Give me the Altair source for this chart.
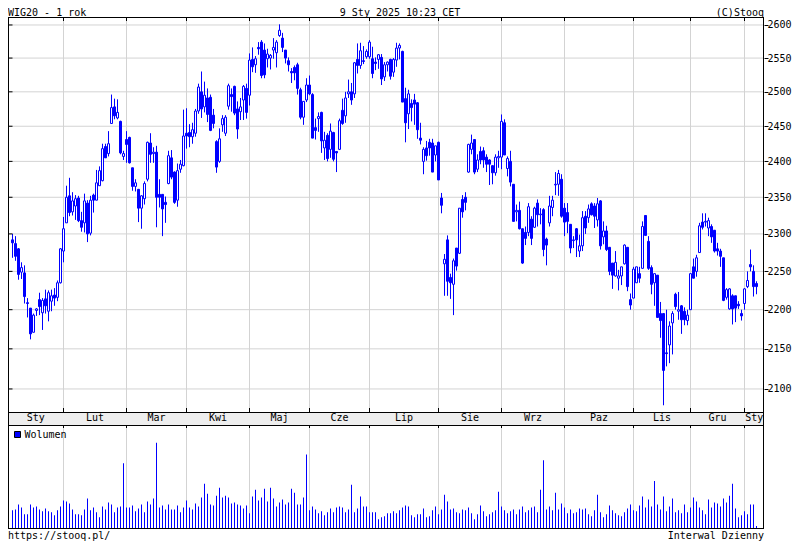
import math
import altair as alt
import pandas as pd

FONT = "DejaVu Sans Mono"
BLUE = "#0000ff"
GRID = "#d3d3d3"

# ---------------- data: WIG20 daily sessions, 9 Jan 2024 - 9 Jan 2025 ----------------
open_ = (
    [2292, 2287, 2280, 2249, 2248, 2209, 2202, 2171, 2199, 2213, 2196, 2214, 2198, 2211, 2219, 2216, 2235, 2277]
    + [2315, 2352, 2330, 2338, 2349, 2318, 2315, 2342, 2301, 2353, 2346, 2366, 2373, 2421, 2411, 2454, 2478, 2462, 2457, 2407]
    + [2431, 2434, 2391, 2365, 2361, 2335, 2348, 2375, 2426, 2411, 2413, 2354, 2354, 2343, 2369, 2405, 2385, 2346, 2389, 2394]
    + [2440, 2441, 2435, 2440, 2472, 2500, 2478, 2491, 2492, 2466, 2428, 2400, 2452, 2440, 2479, 2496, 2508, 2475, 2471, 2488, 2505]
    + [2495, 2548, 2540, 2566, 2574, 2562, 2549, 2550, 2562, 2558, 2584, 2580, 2562, 2546, 2530, 2536, 2540, 2503, 2463, 2488]
    + [2510, 2496, 2448, 2461, 2470, 2419, 2437, 2417, 2441, 2414, 2417, 2473, 2465, 2497, 2500, 2497, 2548, 2539, 2546, 2552, 2552, 2549, 2544, 2548, 2551, 2522, 2540]
    + [2548, 2529, 2547, 2565, 2560, 2490, 2468, 2483, 2488, 2484, 2433, 2400, 2419, 2427, 2426, 2409, 2427, 2349, 2260, 2292, 2242, 2233, 2281, 2274, 2347, 2350, 2385, 2417, 2431, 2389, 2414, 2415, 2406, 2402, 2394, 2384, 2405, 2406, 2455, 2390, 2400, 2368, 2330, 2332, 2307, 2302, 2302, 2320, 2309, 2342, 2326, 2333, 2293, 2315, 2336, 2367, 2368, 2375, 2335, 2329, 2313, 2291, 2307]
    + [2277, 2284, 2324, 2322, 2341, 2338, 2319, 2345, 2296, 2304, 2282, 2261, 2244, 2241, 2244, 2260, 2282, 2213, 2215, 2235, 2247, 2254, 2325, 2290, 2255, 2235, 2245, 2195, 2195, 2145, 2155, 2183, 2220, 2198, 2205, 2198, 2186, 2200, 2256, 2250, 2275, 2316, 2316, 2308, 2310, 2305, 2280, 2277, 2268, 2216, 2201, 2218, 2218, 2207, 2195, 2208, 2230, 2259, 2250, 2234]
)
high = (
    [2300, 2297, 2281, 2262, 2258, 2215, 2202, 2195, 2202, 2222, 2215, 2226, 2225, 2226, 2228, 2238, 2281, 2323]
    + [2366, 2377, 2357, 2353, 2352, 2330, 2355, 2346, 2352, 2355, 2388, 2393, 2425, 2425, 2443, 2496, 2490, 2489, 2458, 2415]
    + [2443, 2435, 2391, 2375, 2361, 2353, 2372, 2428, 2440, 2420, 2422, 2375, 2354, 2351, 2415, 2416, 2386, 2397, 2402, 2474]
    + [2476, 2453, 2455, 2475, 2512, 2530, 2515, 2505, 2496, 2475, 2430, 2447, 2466, 2466, 2512, 2505, 2509, 2486, 2491, 2510, 2512]
    + [2557, 2566, 2553, 2574, 2577, 2572, 2564, 2556, 2580, 2577, 2601, 2588, 2562, 2551, 2535, 2539, 2543, 2506, 2486, 2520]
    + [2524, 2498, 2461, 2470, 2471, 2442, 2440, 2454, 2442, 2414, 2461, 2490, 2500, 2518, 2513, 2544, 2572, 2573, 2568, 2563, 2577, 2567, 2551, 2556, 2556, 2544, 2545]
    + [2549, 2550, 2573, 2572, 2561, 2506, 2503, 2489, 2497, 2485, 2455, 2420, 2429, 2432, 2432, 2422, 2428, 2356, 2273, 2298, 2247, 2267, 2281, 2335, 2353, 2357, 2425, 2438, 2431, 2410, 2421, 2420, 2410, 2403, 2394, 2410, 2415, 2467, 2460, 2407, 2415, 2368, 2340, 2344, 2307, 2310, 2342, 2324, 2337, 2347, 2335, 2335, 2295, 2352, 2352, 2385, 2388, 2382, 2342, 2342, 2313, 2297, 2308]
    + [2299, 2331, 2331, 2340, 2343, 2342, 2349, 2346, 2317, 2311, 2282, 2261, 2277, 2252, 2256, 2286, 2282, 2221, 2256, 2256, 2256, 2317, 2325, 2297, 2258, 2247, 2245, 2210, 2195, 2200, 2185, 2198, 2222, 2223, 2206, 2203, 2200, 2247, 2267, 2272, 2315, 2328, 2328, 2322, 2313, 2305, 2288, 2280, 2268, 2228, 2228, 2220, 2218, 2211, 2200, 2228, 2250, 2279, 2258, 2237]
)
low = (
    [2268, 2264, 2239, 2240, 2208, 2190, 2162, 2171, 2192, 2193, 2174, 2195, 2185, 2198, 2205, 2211, 2234, 2262]
    + [2315, 2324, 2325, 2319, 2316, 2303, 2302, 2289, 2298, 2329, 2346, 2366, 2372, 2405, 2407, 2454, 2460, 2460, 2410, 2402]
    + [2398, 2397, 2359, 2358, 2316, 2307, 2340, 2372, 2398, 2398, 2309, 2336, 2297, 2315, 2368, 2375, 2341, 2337, 2384, 2393]
    + [2418, 2420, 2425, 2435, 2468, 2462, 2470, 2456, 2443, 2447, 2384, 2398, 2442, 2436, 2474, 2471, 2466, 2432, 2459, 2459, 2461]
    + [2480, 2529, 2528, 2555, 2520, 2520, 2536, 2533, 2549, 2536, 2582, 2559, 2542, 2530, 2513, 2517, 2496, 2460, 2452, 2485]
    + [2495, 2433, 2431, 2442, 2412, 2402, 2400, 2405, 2400, 2385, 2416, 2452, 2455, 2491, 2481, 2491, 2527, 2534, 2541, 2549, 2549, 2520, 2532, 2534, 2510, 2516, 2530]
    + [2518, 2522, 2537, 2548, 2485, 2427, 2446, 2457, 2452, 2432, 2424, 2382, 2401, 2408, 2385, 2400, 2374, 2328, 2218, 2218, 2214, 2193, 2251, 2273, 2322, 2332, 2384, 2410, 2382, 2385, 2396, 2391, 2385, 2367, 2368, 2380, 2391, 2389, 2409, 2379, 2365, 2317, 2317, 2306, 2260, 2285, 2297, 2285, 2308, 2310, 2313, 2270, 2258, 2310, 2324, 2353, 2352, 2322, 2297, 2301, 2274, 2281, 2269]
    + [2269, 2277, 2300, 2315, 2325, 2308, 2310, 2279, 2286, 2277, 2245, 2227, 2243, 2225, 2232, 2259, 2224, 2200, 2215, 2235, 2235, 2254, 2298, 2252, 2220, 2205, 2190, 2164, 2080, 2128, 2132, 2143, 2200, 2187, 2169, 2180, 2180, 2200, 2241, 2243, 2275, 2306, 2310, 2297, 2288, 2275, 2271, 2256, 2211, 2213, 2200, 2181, 2184, 2201, 2186, 2200, 2228, 2250, 2217, 2220]
)
close = (
    [2288, 2270, 2246, 2255, 2217, 2208, 2169, 2193, 2201, 2204, 2212, 2205, 2222, 2218, 2215, 2235, 2280, 2307]
    + [2350, 2329, 2345, 2348, 2318, 2309, 2345, 2300, 2346, 2346, 2370, 2387, 2418, 2405, 2425, 2477, 2465, 2470, 2412, 2411]
    + [2424, 2398, 2365, 2370, 2335, 2352, 2369, 2427, 2410, 2413, 2350, 2350, 2334, 2340, 2408, 2378, 2343, 2387, 2396, 2436]
    + [2436, 2435, 2445, 2472, 2507, 2475, 2495, 2467, 2444, 2454, 2392, 2432, 2461, 2463, 2509, 2493, 2469, 2446, 2478, 2508, 2470]
    + [2547, 2537, 2549, 2564, 2524, 2525, 2556, 2554, 2566, 2574, 2592, 2566, 2550, 2540, 2528, 2528, 2505, 2463, 2486, 2510]
    + [2497, 2433, 2444, 2464, 2429, 2430, 2404, 2443, 2403, 2412, 2458, 2454, 2491, 2500, 2488, 2543, 2539, 2561, 2545, 2560, 2574, 2527, 2542, 2555, 2519, 2540, 2544]
    + [2523, 2548, 2565, 2569, 2485, 2455, 2497, 2477, 2482, 2445, 2430, 2417, 2408, 2419, 2385, 2422, 2374, 2339, 2266, 2237, 2235, 2264, 2257, 2335, 2330, 2343, 2424, 2426, 2385, 2402, 2402, 2402, 2396, 2396, 2384, 2406, 2407, 2457, 2409, 2404, 2371, 2317, 2332, 2307, 2261, 2294, 2337, 2294, 2335, 2326, 2327, 2279, 2285, 2338, 2346, 2368, 2383, 2324, 2316, 2317, 2281, 2292, 2292]
    + [2284, 2322, 2308, 2334, 2326, 2324, 2341, 2284, 2304, 2279, 2250, 2245, 2262, 2244, 2256, 2285, 2230, 2206, 2253, 2256, 2241, 2310, 2298, 2254, 2233, 2247, 2190, 2186, 2123, 2144, 2179, 2195, 2204, 2200, 2187, 2187, 2193, 2247, 2241, 2268, 2311, 2309, 2317, 2318, 2296, 2277, 2277, 2270, 2212, 2226, 2227, 2201, 2202, 2205, 2192, 2227, 2238, 2256, 2230, 2230]
)
# volume (relative units, panel top = 106)
volume = (
    [19, 20, 25, 22, 15, 15, 25, 22, 23, 20, 18, 21, 18, 17, 14, 19, 23, 29, 28, 26,
     20, 15, 15, 14, 20, 31, 19, 22, 17, 12, 23, 20, 27, 25, 17, 22, 23, 67, 22, 22,
     24, 18, 21, 25, 17, 28, 25, 31, 88, 22, 24, 20, 25, 20, 20, 24, 17, 22, 29, 22,
     20, 26, 23, 32, 46, 36, 25, 24, 34, 42, 32, 34, 32, 26, 27, 25, 24, 21, 24, 16,
     33, 40, 29, 32, 41, 28, 42, 31, 23, 27, 30, 25, 27, 41, 37, 25, 25, 32, 76, 19,
     23, 20, 16, 18, 14, 17, 21, 17, 22, 23, 22, 17, 20, 45, 17, 21, 33, 23, 23, 17,
     17, 17, 10, 12, 13, 16, 16, 18, 16, 19]
    + [22, 24, 23, 14, 12, 15, 15, 21, 12, 13, 19, 23, 15, 20, 35, 28, 20, 21, 17, 16,
       20, 19, 22, 16, 10, 15, 24, 18, 13, 15, 17, 19, 38, 23, 19, 16, 18, 20, 15, 20,
       23, 17, 19, 22, 23, 17, 40, 70, 20, 23, 19, 37, 20, 26, 22, 16, 20, 16, 17, 21,
       20, 21, 15, 13, 19, 35, 17, 12, 15, 24, 19, 16, 14, 13, 17, 21, 25, 19, 18, 24,
       33, 22, 30, 23, 49, 25, 20, 33, 18, 23, 31, 17, 19, 16, 25, 17, 22, 32, 28, 22,
       19, 15, 30, 22, 27, 26, 23, 31, 27, 34, 46, 21, 12, 14, 18, 15, 25, 25, 3]
)
VOL_TOP = 106

month_names = ["Sty", "Lut", "Mar", "Kwi", "Maj", "Cze", "Lip", "Sie", "Wrz", "Paz", "Lis", "Gru", "Sty"]
month_starts = [17, 38, 58, 79, 99, 119, 142, 163, 184, 207, 226, 244]  # index of 1st session of month
price_levels = [2100, 2150, 2200, 2250, 2300, 2350, 2400, 2450, 2500, 2550, 2600]

header_left = "WIG20 - 1 rok"
header_mid = "9 Sty 2025 10:23 CET"
header_right = "(C)Stooq"
footer_left = "https://stooq.pl/"
footer_right = "Interwal Dzienny"
legend_label = "Wolumen"

# ---------------- layout (pixels) ----------------
W = 756          # plot width
H1 = 395         # price panel
H2 = 13          # month band
H3 = 104         # volume panel
HT = H1 + H2 + H3
P_TOP = 2612.2   # price at top edge of price panel
P_BOT = 2071.8   # price at bottom edge of price panel
P_EXT = P_TOP * math.exp(-math.log(P_TOP / P_BOT) * HT / H1)
X0 = -1.5
X1 = X0 + W / 3.0

# ---------------- frames ----------------
n = len(close)
df = pd.DataFrame({"i": list(range(n)), "open": open_, "high": high, "low": low,
                   "close": close, "vol": volume})
df["high"] = df[["high", "open", "close"]].max(axis=1)
df["low"] = df[["low", "open", "close"]].min(axis=1)
df["x0"] = df["i"] - 1.0 / 3.0
df["x1"] = df["i"] + 1.0 / 3.0

bounds = [X0] + month_starts + [X1]
lab_df = pd.DataFrame({"pos": [(bounds[k] + bounds[k + 1]) / 2 for k in range(len(month_names))],
                       "name": month_names})
ms_df = pd.DataFrame({"m": month_starts})
lvl_df = pd.DataFrame({"lvl": price_levels})

xscale = alt.Scale(domain=[X0, X1], nice=False, zero=False, padding=0)
pscale = alt.Scale(type="log", domain=[P_EXT, P_TOP], nice=False, zero=False, padding=0)
vscale = alt.Scale(domain=[0, VOL_TOP * HT / H3], nice=False, padding=0)


def X(f):
    return alt.X(f, scale=xscale, axis=None)


def PY(f, axis=None):
    return alt.Y(f, scale=pscale, axis=axis)


price_axis = alt.Axis(orient="right", values=price_levels, format="d", tickSize=4, tickColor="black",
                      tickWidth=1, labelFont=FONT, labelFontSize=10, labelColor="black",
                      labelPadding=-1, domain=False, grid=False, title=None)

base = alt.Chart(df)


def vrule(data, field, y0, y1, color):
    return alt.Chart(data).mark_rule(color=color, strokeWidth=1).encode(
        x=X(field), y=alt.value(y0), y2=alt.value(y1))


def frame_rule(x0, x1, y0, y1, color="black"):
    return alt.Chart(pd.DataFrame({"k": [0]})).mark_rule(color=color, strokeWidth=1).encode(
        x=alt.value(x0), x2=alt.value(x1), y=alt.value(y0), y2=alt.value(y1))


def label(txt, x, y, align, baseline="top"):
    return alt.Chart(pd.DataFrame({"t": [txt]})).mark_text(
        align=align, baseline=baseline, font=FONT, fontSize=10, color="black"
    ).encode(x=alt.value(x), y=alt.value(y), text="t:N")


# grid
grid_h = alt.Chart(lvl_df).mark_rule(color=GRID, strokeWidth=1).encode(
    y=PY("lvl:Q"), x=alt.value(0.5), x2=alt.value(W - 0.5))
grid_vp = vrule(ms_df, "m:Q", 0, H1, GRID)
grid_vv = vrule(ms_df, "m:Q", H1 + H2, HT, GRID)

# month band
band_bg = alt.Chart(pd.DataFrame({"k": [0]})).mark_rect(color="#eeeeee").encode(
    x=alt.value(0), x2=alt.value(W), y=alt.value(H1), y2=alt.value(H1 + H2))
band_text = alt.Chart(lab_df).mark_text(font=FONT, fontSize=10, color="black", baseline="middle").encode(
    x=X("pos:Q"), y=alt.value(H1 + 6.2), text="name:N")

# candles
wicks = base.mark_rule(color=BLUE, strokeWidth=1).encode(
    x=X("i:Q"), y=PY("low:Q", price_axis), y2="high:Q")
bodies = base.mark_rect(stroke=BLUE, strokeWidth=1).encode(
    x=X("x0:Q"), x2="x1:Q", y=PY("open:Q"), y2="close:Q",
    fill=alt.condition("datum.close >= datum.open", alt.value("white"), alt.value(BLUE)))

# volume
vol_bars = base.mark_bar(width=1, color=BLUE).encode(
    x=X("i:Q"), y=alt.Y("vol:Q", scale=vscale, axis=None))

# ticks
left_ticks = alt.Chart(lvl_df).mark_rule(color="black", strokeWidth=1).encode(
    y=PY("lvl:Q"), x=alt.value(0.5), x2=alt.value(4.5))
top_ticks = vrule(ms_df, "m:Q", 0, 4, "black")
bot_ticks = vrule(ms_df, "m:Q", H1 - 4, H1, "black")
vol_ticks = vrule(ms_df, "m:Q", H1 + H2, H1 + H2 + 3, "black")

# frame
frame = [
    frame_rule(0.5, 0.5, 0, HT),
    frame_rule(W - 0.5, W - 0.5, 0, HT),
    frame_rule(0.5, W - 0.5, 0.5, 0.5),
    frame_rule(0.5, W - 0.5, H1 + 0.5, H1 + 0.5),
    frame_rule(0.5, W - 0.5, H1 + H2 + 0.5, H1 + H2 + 0.5),
    frame_rule(0.5, W - 0.5, HT - 0.5, HT - 0.5),
]

# legend of volume panel
leg_sq = alt.Chart(pd.DataFrame({"k": [0]})).mark_square(
    size=36, color=BLUE, filled=True, stroke="black", strokeWidth=1, opacity=1
).encode(x=alt.value(9.5), y=alt.value(H1 + H2 + 9.5))
leg_txt = label(legend_label, 16.5, H1 + H2 + 9.5, "left", "middle")

chart = alt.layer(
    grid_h, grid_vp, grid_vv, band_bg, band_text,
    vol_bars, wicks, bodies,
    left_ticks, top_ticks, bot_ticks, vol_ticks,
    *frame,
    leg_sq, leg_txt,
    label(header_left, 0, -9, "left"),
    label(header_mid, 392, -9, "center"),
    label(header_right, W, -9, "right"),
    label(footer_left, 0, HT + 2, "left"),
    label(footer_right, W, HT + 2, "right"),
).resolve_scale(y="independent").properties(
    width=W, height=HT, padding=0, background="white"
).configure_view(stroke=None)

chart.save("out.html", embed_options={"renderer": "svg", "actions": False})
